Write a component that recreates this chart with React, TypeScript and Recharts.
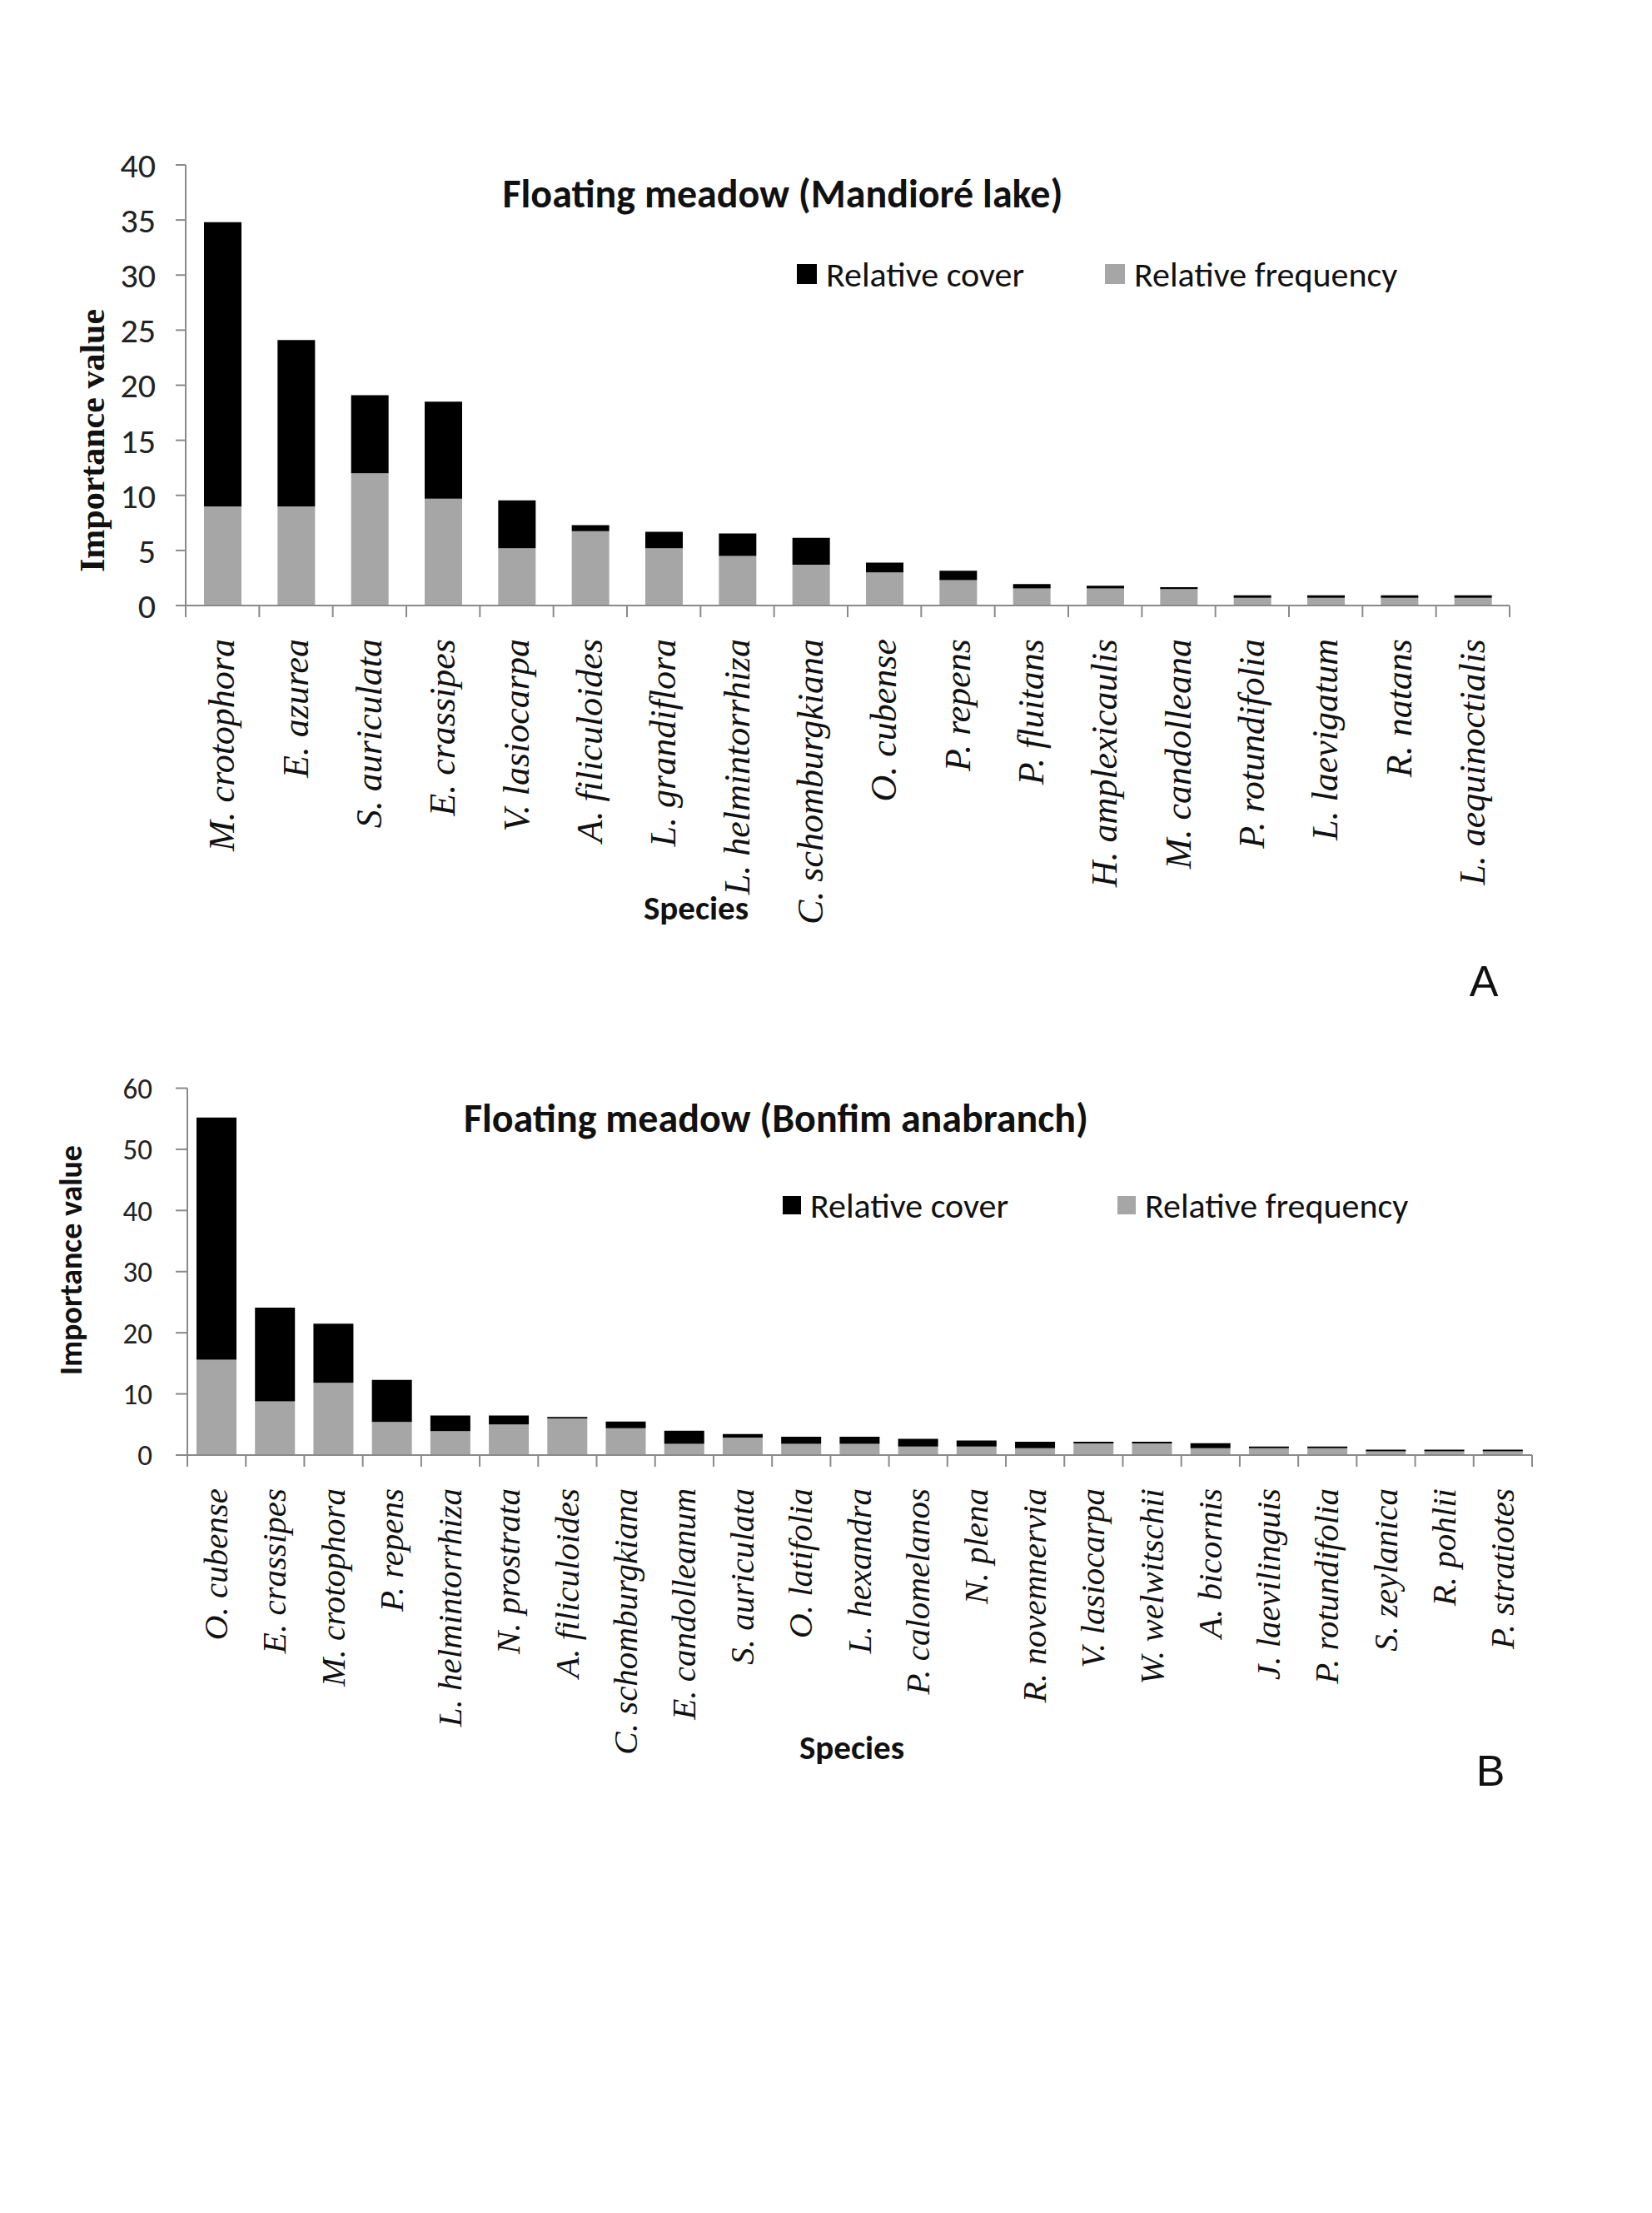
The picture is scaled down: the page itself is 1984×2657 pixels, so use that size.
import React from 'react';
import { BarChart, Bar, XAxis, YAxis, Legend } from 'recharts';

// Panel A - Mandioré lake
const speciesA = [
  'M. crotophora', 'E. azurea', 'S. auriculata', 'E. crassipes', 'V. lasiocarpa',
  'A. filiculoides', 'L. grandiflora', 'L. helmintorrhiza', 'C. schomburgkiana',
  'O. cubense', 'P. repens', 'P. fluitans', 'H. amplexicaulis', 'M. candolleana',
  'P. rotundifolia', 'L. laevigatum', 'R. natans', 'L. aequinoctialis',
];
const frequencyA = [9, 9, 12, 9.7, 5.2, 6.75, 5.2, 4.5, 3.7, 3.0, 2.3, 1.55, 1.55, 1.5, 0.7, 0.7, 0.7, 0.7];
const coverA = [25.8, 15.1, 7.1, 8.8, 4.35, 0.55, 1.5, 2.05, 2.45, 0.9, 0.85, 0.4, 0.25, 0.17, 0.22, 0.22, 0.22, 0.22];
const yTicksA = [0, 5, 10, 15, 20, 25, 30, 35, 40];

// Panel B - Bonfim anabranch
const speciesB = [
  'O. cubense', 'E. crassipes', 'M. crotophora', 'P. repens', 'L. helmintorrhiza',
  'N. prostrata', 'A. filiculoides', 'C. schomburgkiana', 'E. candolleanum',
  'S. auriculata', 'O. latifolia', 'L. hexandra', 'P. calomelanos', 'N. plena',
  'R. novemnervia', 'V. lasiocarpa', 'W. welwitschii', 'A. bicornis',
  'J. laevilinguis', 'P. rotundifolia', 'S. zeylanica', 'R. pohlii', 'P. stratiotes',
];
const frequencyB = [15.6, 8.8, 11.8, 5.4, 3.9, 5.0, 6.0, 4.4, 1.85, 2.85, 1.85, 1.85, 1.4, 1.4, 1.13, 1.9, 1.9, 1.13, 1.13, 1.13, 0.6, 0.6, 0.6];
const coverB = [39.6, 15.3, 9.7, 6.9, 2.56, 1.46, 0.24, 1.07, 2.13, 0.58, 1.13, 1.13, 1.27, 1.0, 1.04, 0.27, 0.27, 0.82, 0.27, 0.27, 0.3, 0.3, 0.3];
const yTicksB = [0, 10, 20, 30, 40, 50, 60];

const legendOrder = ['Relative cover', 'Relative frequency'];

const dataA = speciesA.map((name, i) => ({ name, frequency: frequencyA[i], cover: coverA[i] }));
const dataB = speciesB.map((name, i) => ({ name, frequency: frequencyB[i], cover: coverB[i] }));

const SANS = 'Carlito, Lato, "Open Sans", sans-serif';
const SERIF = '"Liberation Serif", "Times New Roman", serif';
const AXIS = '#8a8a8a';
const GREY = '#a6a6a6';

const SpeciesTick = (props: any) => {
  const { x, y, payload, index, band, count, fontSize } = props;
  return (
    <g transform={`translate(${x},${y})`}>
      <line x1={-band / 2} x2={-band / 2} y1={0} y2={14} stroke={AXIS} strokeWidth={2} />
      {index === count - 1 && (
        <line x1={band / 2} x2={band / 2} y1={0} y2={14} stroke={AXIS} strokeWidth={2} />
      )}
      <text
        transform="rotate(-90)"
        x={-40}
        y={0}
        dy="0.32em"
        textAnchor="end"
        fontFamily={SERIF}
        fontStyle="italic"
        fontSize={fontSize}
        fill="#111"
      >
        {payload.value}
      </text>
    </g>
  );
};

const makeLegend = (itemWidth: number, fontSize: number, box: number) => (props: any) => {
  const items = [...(props.payload || [])].sort(
    (a: any, b: any) => legendOrder.indexOf(a.value) - legendOrder.indexOf(b.value)
  );
  return (
    <div style={{ display: 'flex', alignItems: 'center', height: 44 }}>
      {items.map((it: any) => (
        <div key={it.value} style={{ display: 'flex', alignItems: 'center', width: itemWidth }}>
          <span style={{ display: 'inline-block', width: box, height: box, background: it.color, marginRight: 11 }} />
          <span style={{ fontFamily: SANS, fontSize, color: '#111', whiteSpace: 'nowrap' }}>{it.value}</span>
        </div>
      ))}
    </div>
  );
};

// plot areas (page px)
const A_LEFT = 223, A_RIGHT = 1813, A_TOP = 198, A_BOTTOM = 727;
const B_TOP_OFFSET = 1150;
const B_LEFT = 225, B_RIGHT = 1840, B_TOP = 1306.5, B_BOTTOM = 1747;

const bandA = (A_RIGHT - A_LEFT) / speciesA.length;
const bandB = (B_RIGHT - B_LEFT) / speciesB.length;

export default function App() {
  return (
    <div style={{ position: 'absolute', left: 0, top: 0, width: 1984, height: 2657, background: '#fff' }}>
      <div style={{ position: 'absolute', left: 0, top: 0 }}>
        <BarChart
          width={1984}
          height={1150}
          data={dataA}
          margin={{ top: A_TOP, right: 1984 - A_RIGHT, left: A_LEFT - 100, bottom: 1150 - A_BOTTOM - 300 }}
        >
          <XAxis
            dataKey="name"
            interval={0}
            tickLine={false}
            tickSize={0}
            tickMargin={0}
            height={300}
            axisLine={{ stroke: AXIS, strokeWidth: 2 }}
            tick={(p: any) => <SpeciesTick {...p} band={bandA} count={speciesA.length} fontSize={44} />}
          />
          <YAxis
            width={100}
            domain={[0, 40]}
            ticks={yTicksA}
            interval={0}
            tickSize={12}
            tickMargin={24}
            axisLine={{ stroke: AXIS, strokeWidth: 2 }}
            tickLine={{ stroke: AXIS, strokeWidth: 2 }}
            tick={{ fontSize: 42, fill: '#222', fontFamily: SANS }}
          />
          <Legend
            layout="horizontal"
            verticalAlign="middle"
            align="center"
            wrapperStyle={{ left: 957, top: 307, width: 820, height: 44 }}
            content={makeLegend(370, 42, 24)}
          />
          <Bar dataKey="frequency" name="Relative frequency" stackId="s" fill={GREY} barSize={45} isAnimationActive={false} />
          <Bar dataKey="cover" name="Relative cover" stackId="s" fill="#000" barSize={45} isAnimationActive={false} />
        </BarChart>
      </div>

      <div style={{ position: 'absolute', left: 0, top: B_TOP_OFFSET }}>
        <BarChart
          width={1984}
          height={1100}
          data={dataB}
          margin={{
            top: B_TOP - B_TOP_OFFSET,
            right: 1984 - B_RIGHT,
            left: B_LEFT - 100,
            bottom: 1100 - (B_BOTTOM - B_TOP_OFFSET) - 300,
          }}
        >
          <XAxis
            dataKey="name"
            interval={0}
            tickLine={false}
            tickSize={0}
            tickMargin={0}
            height={300}
            axisLine={{ stroke: AXIS, strokeWidth: 2 }}
            tick={(p: any) => <SpeciesTick {...p} band={bandB} count={speciesB.length} fontSize={41} />}
          />
          <YAxis
            width={100}
            domain={[0, 60]}
            ticks={yTicksB}
            interval={0}
            tickSize={14}
            tickMargin={28}
            axisLine={{ stroke: AXIS, strokeWidth: 2 }}
            tickLine={{ stroke: AXIS, strokeWidth: 2 }}
            tick={{ fontSize: 35, fill: '#222', fontFamily: SANS }}
          />
          <Legend
            layout="horizontal"
            verticalAlign="middle"
            align="center"
            wrapperStyle={{ left: 940, top: 1447 - B_TOP_OFFSET - 22, width: 820, height: 44 }}
            content={makeLegend(402, 42, 22)}
          />
          <Bar dataKey="frequency" name="Relative frequency" stackId="s" fill={GREY} barSize={48} isAnimationActive={false} />
          <Bar dataKey="cover" name="Relative cover" stackId="s" fill="#000" barSize={48} isAnimationActive={false} />
        </BarChart>
      </div>

      <svg width={1984} height={2657} style={{ position: 'absolute', left: 0, top: 0, pointerEvents: 'none' }}>
        {/* panel A */}
        <text x={940} y={232} textAnchor="middle" dominantBaseline="central" fontFamily={SANS} fontWeight="bold" fontSize={48} fill="#111">
          Floating meadow (Mandioré lake)
        </text>
        <text
          x={111}
          y={529}
          transform="rotate(-90 111 529)"
          textAnchor="middle"
          dominantBaseline="central"
          fontFamily={SERIF}
          fontWeight="bold"
          fontSize={42}
          fill="#111"
        >
          Importance value
        </text>
        <text x={836} y={1090} textAnchor="middle" dominantBaseline="central" fontFamily={SANS} fontWeight="bold" fontSize={41} fill="#111">
          Species
        </text>
        <text x={1782} y={1178} textAnchor="middle" dominantBaseline="central" fontFamily='"Liberation Sans", Arial, sans-serif' fontSize={52} fill="#111">
          A
        </text>

        {/* panel B */}
        <text x={932} y={1342} textAnchor="middle" dominantBaseline="central" fontFamily={SANS} fontWeight="bold" fontSize={48} fill="#111">
          Floating meadow (Bonfim anabranch)
        </text>
        <text
          x={85}
          y={1513}
          transform="rotate(-90 85 1513)"
          textAnchor="middle"
          dominantBaseline="central"
          fontFamily={SANS}
          fontWeight="bold"
          fontSize={38}
          fill="#111"
        >
          Importance value
        </text>
        <text x={1023} y={2098} textAnchor="middle" dominantBaseline="central" fontFamily={SANS} fontWeight="bold" fontSize={41} fill="#111">
          Species
        </text>
        <text x={1790} y={2126} textAnchor="middle" dominantBaseline="central" fontFamily='"Liberation Sans", Arial, sans-serif' fontSize={52} fill="#111">
          B
        </text>
      </svg>
    </div>
  );
}
